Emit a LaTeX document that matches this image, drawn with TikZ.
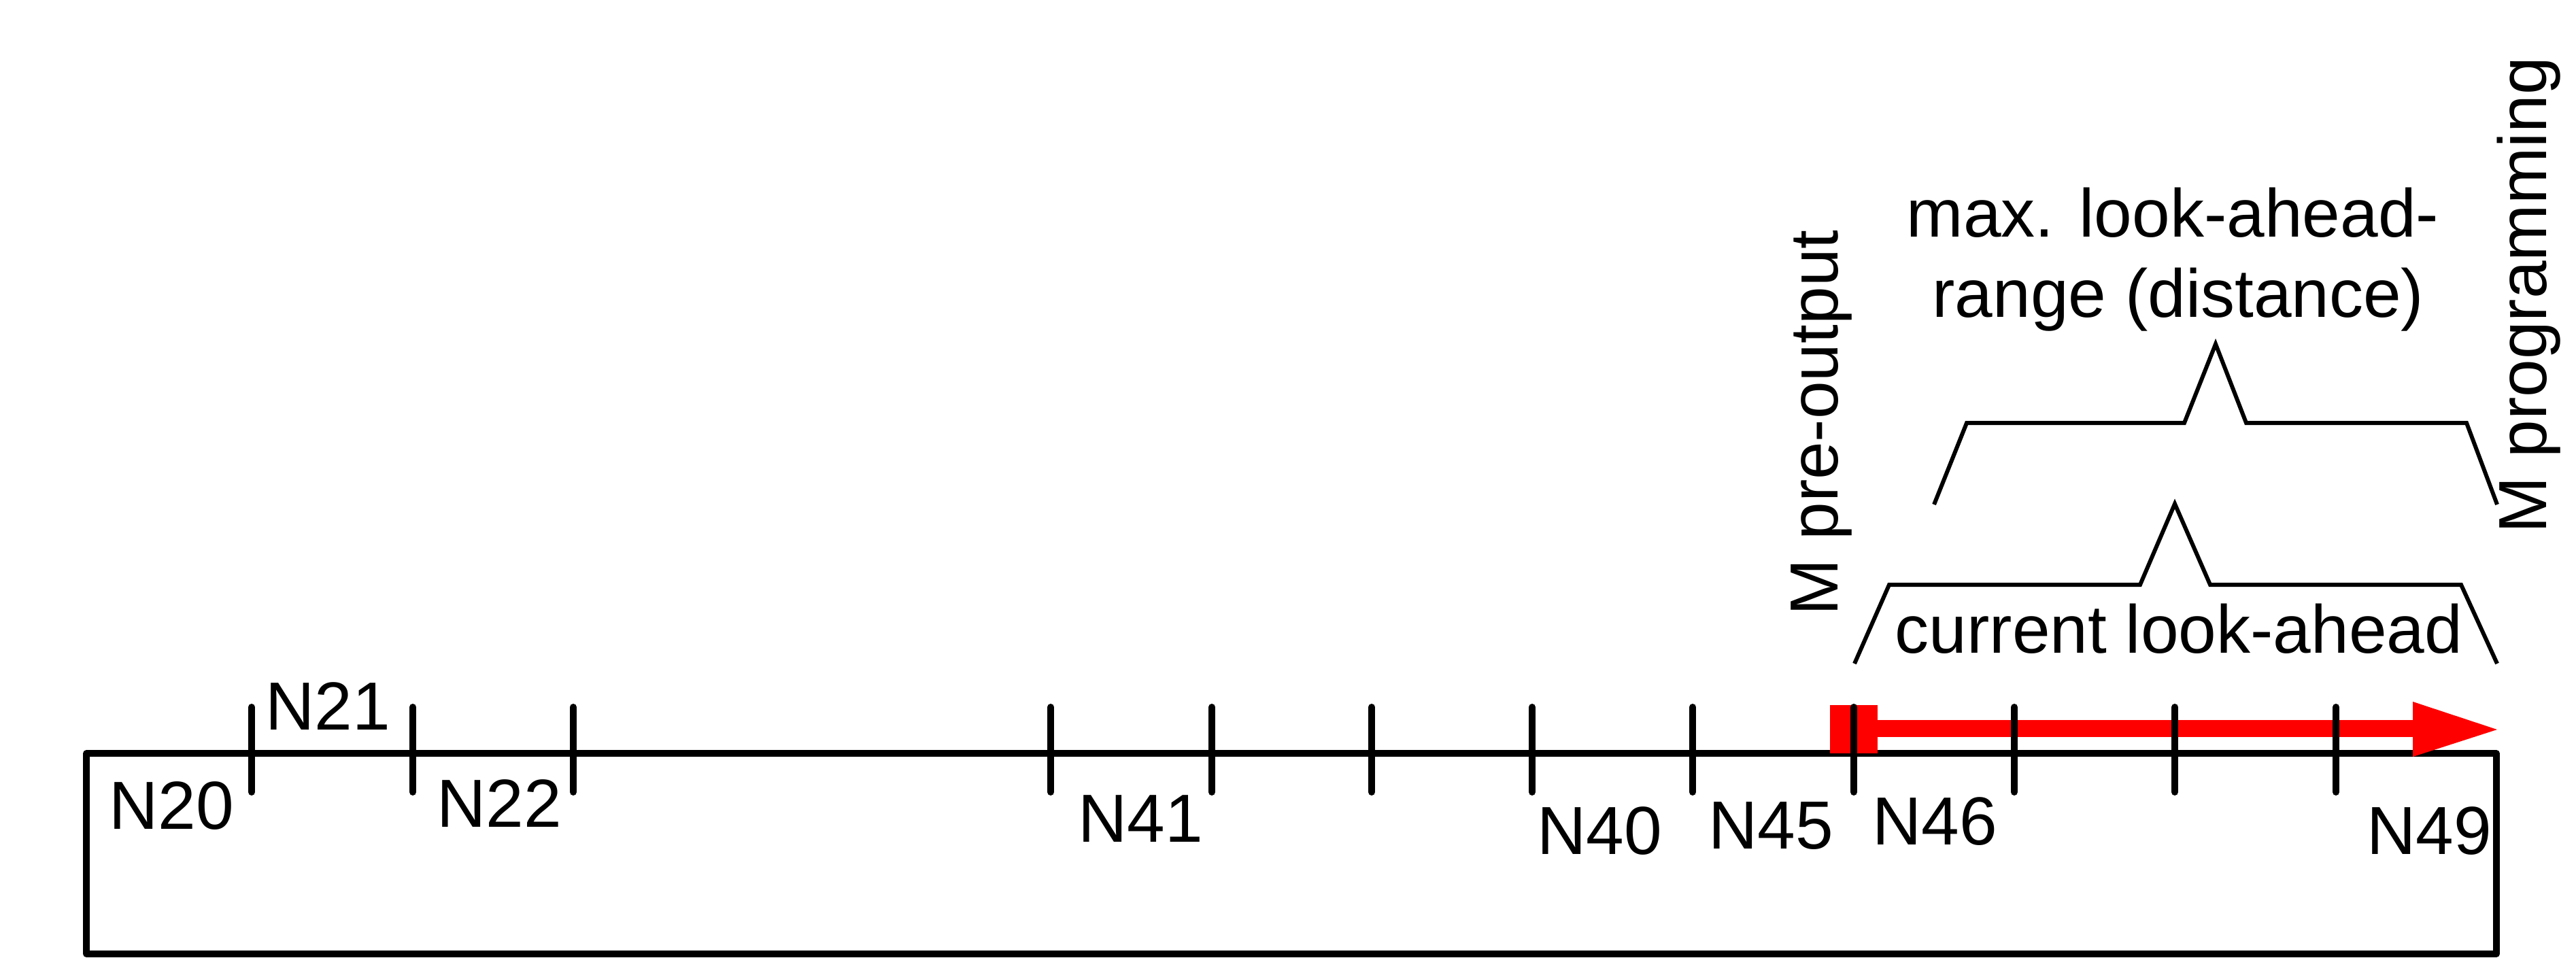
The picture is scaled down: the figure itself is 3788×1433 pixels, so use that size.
\documentclass[tikz,border=0pt]{standalone}
\usepackage{fontspec}
\setmainfont{Liberation Sans}
\begin{document}
\begin{tikzpicture}[x=0.01cm,y=-0.01cm,
  boxline/.style={line width=2.65pt,line join=round,line cap=round},
  tickline/.style={line width=2.85pt,line cap=round},
  braceline/.style={line width=1.7pt,line join=miter},
  lbl/.style={inner sep=0pt,anchor=base,font=\fontsize{28.45}{34}\selectfont},
  redfill/.style={fill=red,draw=none}]
\useasboundingbox (0,0) rectangle (3788,1433);
% box
\draw[boxline] (127,1108) rectangle (3671,1403);
% red arrow
\fill[redfill] (2691,1037) rectangle (2761,1108);
\fill[redfill] (2761,1059) rectangle (3550,1084);
\fill[redfill] (3548,1032) -- (3672,1073) -- (3548,1113) -- cycle;
% ticks
\foreach \x [count=\i] in {370,607,843,1545,1782,2017,2253,2489,2726,2962,3198,3435}{
  \coordinate (t\i a) at (\x,1040);
  \coordinate (t\i b) at (\x,1165);
  \draw[tickline] (t\i a) -- (t\i b);
}
% block labels
\node[lbl] (n20) at (252,1219) {N20};
\node[lbl] (n21) at (482,1073) {N21};
\node[lbl] (n22) at (734,1216) {N22};
\node[lbl] (n41) at (1677,1238) {N41};
\node[lbl] (n40) at (2352,1256) {N40};
\node[lbl] (n45) at (2604,1248) {N45};
\node[lbl] (n46) at (2845,1242) {N46};
\node[lbl] (n49) at (3572,1256) {N49};
% braces
\draw[braceline] (2844,742) -- (2892,622) -- (3212,622) -- (3258,506) -- (3303,622) -- (3627,622) -- (3672,742);
\draw[braceline] (2727,976) -- (2778,860) -- (3147,860) -- (3198,741) -- (3250,860) -- (3619,860) -- (3672,976);
% brace texts
\node[lbl] (maxa) at (3195,348) {max. look-ahead-};
\node[lbl] (maxb) at (3203,466) {range (distance)};
\node[lbl] (cur) at (3204,960) {current look-ahead};
% rotated texts
\node[lbl,rotate=90] (mpre) at (2702,622) {M pre-output};
\node[lbl,rotate=90] (mprog) at (3744,434) {M programming};
\end{tikzpicture}
\end{document}
